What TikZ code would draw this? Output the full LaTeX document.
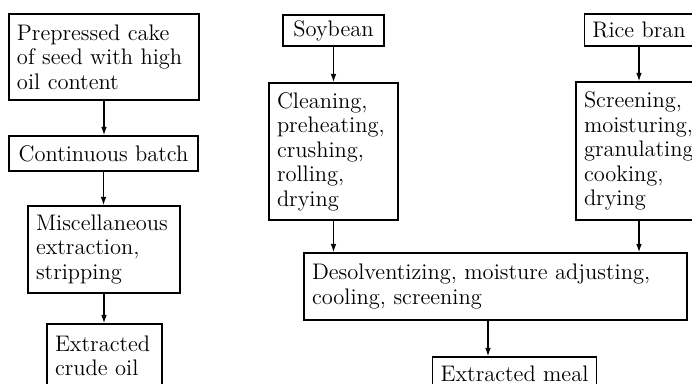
\documentclass[tikz,border=0pt]{standalone}
\usetikzlibrary{positioning,arrows.meta}

\begin{document}
\begin{tikzpicture}[
  x=0.5pt, y=-0.5pt,
  >={Latex[length=4.2pt,width=2.8pt]},
  font=\fontsize{11.25}{12.25}\selectfont,
  box/.style={draw=black, line width=0.6pt, align=left,
              inner xsep=4pt, inner ysep=2pt},
  flow/.style={->, line width=0.7pt, draw=black},
]
\clip (0,0) rectangle (692,384);

% ---------------- seed cake line (left) ----------------
\node[box, text width=87pt, minimum height=43pt] (cake) at (104,57)
  {Prepressed cake\\ of seed with high\\ oil content};
\node[box, minimum width=94.5pt, minimum height=17.5pt] (batch) at (103.5,153.5)
  {Continuous batch};
\node[box, text width=68pt, minimum height=43.5pt] (misc) at (104,249.5)
  {Miscellaneous\\ extraction,\\ stripping};
\node[box, text width=49.5pt, minimum height=32pt] (oil) at (104.5,356)
  {Extracted\\ crude oil};

% ---------------- soybean and rice bran (right) ----------------
\node[box, minimum width=50.5pt, minimum height=15.5pt] (soy) at (333.5,30.5)
  {Soybean};
\node[box, text width=56.5pt, minimum height=68.5pt] (clean) at (333.5,151.5)
  {Cleaning,\\ preheating,\\ crushing,\\ rolling,\\ drying};
\node[box, minimum width=52pt, minimum height=16pt] (rice) at (639,30)
  {Rice bran};
\node[box, text width=55pt, minimum height=69pt] (screen) at (639,151)
  {Screening,\\ moisturing,\\ granulating,\\ cooking,\\ drying};

% ---------------- meal ----------------
\node[box, text width=183.5pt, minimum height=33.5pt] (desolv) at (495.5,286.5)
  {Desolventizing, moisture adjusting,\\ cooling, screening};
\node[box, minimum width=52.5pt, minimum height=17pt] (meal) at (514.5,374)
  {Extracted meal};

% ---------------- flow ----------------
\draw[flow] (cake.south)   -- (cake.south |- batch.north);
\draw[flow] (batch.south)  -- (batch.south |- misc.north);
\draw[flow] (misc.south)   -- (misc.south |- oil.north);
\draw[flow] (soy.south)    -- (soy.south |- clean.north);
\draw[flow] (rice.south)   -- (rice.south |- screen.north);
\draw[flow] (clean.south)  -- (clean.south |- desolv.north);
\draw[flow] (screen.south) -- (screen.south |- desolv.north);
\draw[flow] ([xshift=-3.75pt]desolv.south) -- ([xshift=-3.75pt]desolv.south |- meal.north);

\end{tikzpicture}
\end{document}
